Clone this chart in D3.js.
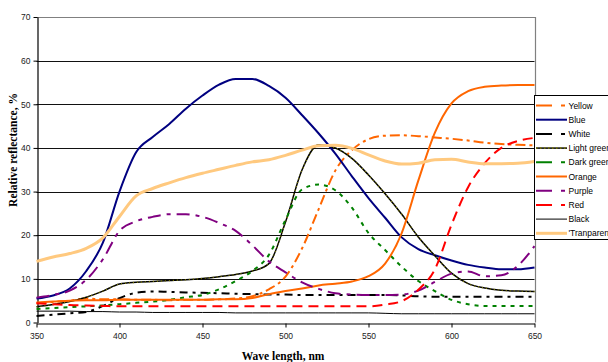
<!DOCTYPE html>
<html>
<head>
<meta charset="utf-8">
<script src="https://cdn.jsdelivr.net/npm/d3@7"></script>
<style>
  body { margin: 0; background: #fff; }
  svg { display: block; }
  .tick text { font-family: "Liberation Sans", Arial, sans-serif; font-size: 8.5px; fill: #222; }
  .title { font-family: "Liberation Serif", "Times New Roman", serif; font-weight: bold; font-size: 11.5px; fill: #000; }
  .legend text { font-family: "Liberation Sans", Arial, sans-serif; font-size: 8.5px; fill: #000; }
</style>
</head>
<body>
<svg id="chart"></svg>
<script>
const width = 608;
const height = 362;

// wave lengths, nm (every 10 nm)
const waves = d3.range(350, 651, 10);

const yellow = [4.4,4.7,5.0,5.5,5.3,5.3,5.2,5.2,5.1,5.2,5.2,5.3,5.5,6.0,7.6,10.5,17,26,34.8,39.5,42,42.8,42.9,42.7,42.4,42.1,41.7,41.2,40.9,40.7,40.6];
const blue = [5.5,6.2,7.8,11.8,18.3,30,39,42.5,45.5,49,52,54.5,55.8,55.8,54.2,51.5,47.5,43.3,38.7,33.5,28.5,24,19.5,16.8,15.4,14.2,13.2,12.6,12.2,12.2,12.6];
const white = [1.5,1.8,2.1,2.4,3.8,5.6,6.8,7.1,7.0,6.9,6.8,6.7,6.6,6.5,6.4,6.4,6.3,6.3,6.3,6.3,6.3,6.3,6.2,6.0,5.9,5.9,5.9,5.9,5.9,5.9,5.9];
const lightGreen = [3.6,4.1,4.8,5.8,7.2,8.8,9.2,9.4,9.6,9.8,10.1,10.5,11.0,11.8,13.5,23,35,40.7,40.0,37.6,33.8,29.5,24.8,19.6,15.3,11.3,8.9,7.9,7.4,7.2,7.1];
const darkGreen = [3.1,3.3,3.5,3.7,3.9,4.2,4.5,4.8,5.2,5.8,6.3,7.6,9.5,11.8,15.5,23.5,30.5,31.6,30.3,26.3,20.5,16.6,12.8,9.5,7.2,5.2,4.2,3.8,3.8,3.8,3.8];
const orange = [4.6,4.8,5.0,5.1,5.1,5.2,5.2,5.2,5.2,5.2,5.2,5.3,5.3,5.6,6.5,7.2,7.8,8.5,8.9,9.4,10.6,13.5,20.5,32.5,43.5,50.2,53,54,54.3,54.4,54.4];
const purple = [5.7,6.3,7.3,9.8,14.5,21,23.2,24.2,24.8,24.8,24.2,22.8,21,17.7,14,11.5,9.2,7.7,6.7,6.4,6.3,6.3,6.4,7.3,9.3,11.2,11.7,10.6,10.8,13,17.5];
const red = [4.4,4.2,4.0,3.9,3.8,3.7,3.7,3.7,3.7,3.7,3.7,3.7,3.7,3.7,3.7,3.7,3.7,3.7,3.7,3.7,3.7,4.1,4.9,7.5,12.2,22.4,31,36.5,40,41.6,42.3];
const black = [2.6,2.6,2.6,2.5,2.5,2.4,2.4,2.3,2.3,2.3,2.3,2.3,2.2,2.2,2.2,2.2,2.2,2.2,2.2,2.2,2.2,2.1,2.0,2.0,2.0,2.0,2.0,2.0,2.0,2.0,2.0];
const transparent = [14,15,15.8,17,19.4,24.3,29,30.7,32,33.2,34.2,35.1,36,36.8,37.3,38.3,39.5,40.5,40.6,39.9,38.4,37,36.3,36.5,37.3,37.4,36.8,36.4,36.4,36.5,36.9];

const names = ['Yellow','Blue','White','Light green','Dark green','Orange','Purple','Red','Black',"'Tranparent"];
const xTicks = [350,400,450,500,550,600,650];
const yTicks = [0,10,20,30,40,50,60,70];

const styles = [
  {color: '#ff6600', w: 2, dash: '10,4,3,4'},
  {color: '#000080', w: 2, dash: null},
  {color: '#000000', w: 2, dash: '8,5,3,5'},
  {color: '#000000', w: 1.5, dash: null, over: '#808000'},
  {color: '#008000', w: 2, dash: '4,5'},
  {color: '#ff6600', w: 2, dash: null},
  {color: '#800080', w: 2, dash: '13,6,4,6'},
  {color: '#ff0000', w: 2, dash: '10,6'},
  {color: '#000000', w: 1, dash: null},
  {color: '#ffc97f', w: 3, dash: null}
];

const series = [yellow, blue, white, lightGreen, darkGreen, orange, purple, red, black, transparent]
  .map((vals, i) => ({name: names[i], style: styles[i], points: vals.map((v, j) => [waves[j], v])}));

const x = d3.scaleLinear().domain([350, 650]).range([36.5, 534.5]);
const y = d3.scaleLinear().domain([0, 70]).range([322.5, 17]);

const svg = d3.select('#chart').attr('width', width).attr('height', height);

// grid
svg.append('g')
  .selectAll('line')
  .data(yTicks.filter(d => d > 0 && d < 70))
  .join('line')
  .attr('x1', x(350)).attr('x2', x(650))
  .attr('y1', d => Math.round(y(d)) + 0.5).attr('y2', d => Math.round(y(d)) + 0.5)
  .attr('stroke', '#111').attr('stroke-width', 1);

// plot frame (top + right grey)
svg.append('path')
  .attr('d', `M${x(350)},${Math.round(y(70)) + 0.5}H${Math.round(x(650)) + 0.5}V${y(0)}`)
  .attr('fill', 'none').attr('stroke', '#808080').attr('stroke-width', 1.2);

// axes
const xAxis = svg.append('g')
  .attr('transform', `translate(0,${Math.round(y(0)) + 0.5})`)
  .call(d3.axisBottom(x).tickValues(xTicks).tickSize(4).tickSizeOuter(0).tickPadding(5));
const yAxis = svg.append('g')
  .attr('transform', `translate(${Math.round(x(350)) + 0.5},0)`)
  .call(d3.axisLeft(y).tickValues(yTicks).tickSize(4).tickSizeOuter(0).tickPadding(3));
[xAxis, yAxis].forEach(a => {
  a.select('.domain').attr('stroke', '#000').attr('stroke-width', 1.2);
  a.selectAll('.tick line').attr('stroke', '#000');
});

// lines
const line = d3.line()
  .x(d => x(d[0]))
  .y(d => y(d[1]))
  .curve(d3.curveMonotoneX);

const lines = svg.append('g');
series.forEach(s => {
  lines.append('path')
    .attr('d', line(s.points))
    .attr('fill', 'none')
    .attr('stroke', s.style.color)
    .attr('stroke-width', s.style.w)
    .attr('stroke-dasharray', s.style.dash);
  if (s.style.over) {
    lines.append('path')
      .attr('d', line(s.points))
      .attr('fill', 'none')
      .attr('stroke', s.style.over)
      .attr('stroke-width', 1.3)
      .attr('stroke-dasharray', '1,3');
  }
});

// titles
svg.append('text')
  .attr('class', 'title')
  .attr('transform', 'translate(17,150) rotate(-90)')
  .attr('text-anchor', 'middle')
  .text('Relative reflectance, %');
svg.append('text')
  .attr('class', 'title')
  .attr('x', 283).attr('y', 359.5)
  .attr('text-anchor', 'middle')
  .text('Wave length, nm');

// legend
const legend = svg.append('g').attr('class', 'legend');
legend.append('rect')
  .attr('x', 534.5).attr('y', 95.5)
  .attr('width', 90).attr('height', 144)
  .attr('fill', '#fff').attr('stroke', '#000').attr('stroke-width', 1);

const item = legend.selectAll('g.item')
  .data(series)
  .join('g')
  .attr('class', 'item')
  .attr('transform', (d, i) => `translate(0,${105.5 + i * 14.2})`);
item.append('line')
  .attr('x1', 536).attr('x2', 567)
  .attr('stroke', d => d.style.color)
  .attr('stroke-width', d => d.style.w)
  .attr('stroke-dasharray', d => d.style.dash ? '16,9,4,9' : null);
item.filter(d => d.style.over).append('line')
  .attr('x1', 536).attr('x2', 567)
  .attr('stroke', d => d.style.over)
  .attr('stroke-width', 1.5)
  .attr('stroke-dasharray', '1.5,2.5');
item.append('text')
  .attr('x', 568.5).attr('y', 3)
  .text(d => d.name);
</script>
</body>
</html>
